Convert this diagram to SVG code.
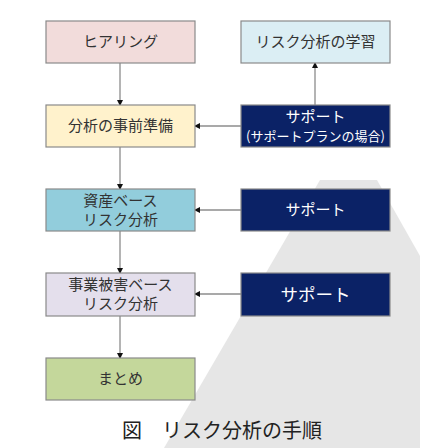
<svg xmlns="http://www.w3.org/2000/svg" width="448" height="448" viewBox="0 0 448 448">
<defs>
<style>
.box{stroke:#8a8a8a;stroke-width:1.2}
.t{font-family:"Noto Sans CJK JP","Noto Sans CJK SC",sans-serif;font-size:15px;fill:#333;text-anchor:middle}
.w{font-family:"Noto Sans CJK JP","Noto Sans CJK SC",sans-serif;fill:#fff;text-anchor:middle}
.c{stroke:#8c8c8c;stroke-width:1.3;fill:none}
</style>
<marker id="ah" markerWidth="6" markerHeight="6" refX="5" refY="3" orient="auto" markerUnits="userSpaceOnUse">
<path d="M0,0 L6,3 L0,6 z" fill="#111"/>
</marker>
</defs>
<rect width="448" height="448" fill="#fff"/>
<polygon points="320,180 377,180 420,256 420,448 164,448" fill="#e6e6e6"/>
<g id="connectors">
<line class="c" x1="120" y1="63" x2="120" y2="105" marker-end="url(#ah)"/>
<line class="c" x1="120" y1="147" x2="120" y2="189" marker-end="url(#ah)"/>
<line class="c" x1="120" y1="231" x2="120" y2="273" marker-end="url(#ah)"/>
<line class="c" x1="120" y1="316" x2="120" y2="358" marker-end="url(#ah)"/>
<line class="c" x1="241" y1="126" x2="195" y2="126" marker-end="url(#ah)"/>
<line class="c" x1="241" y1="210" x2="195" y2="210" marker-end="url(#ah)"/>
<line class="c" x1="241" y1="294" x2="195" y2="294" marker-end="url(#ah)"/>
<line class="c" x1="315" y1="105" x2="315" y2="63" marker-end="url(#ah)"/>
</g>
<g id="hearing"><rect class="box" x="46" y="21" width="149" height="42" fill="#f2dcdb"/><text class="t" x="120.5" y="47">ヒアリング</text></g>
<g id="learning"><rect class="box" x="241" y="21" width="149" height="42" fill="#dbeef4"/><text class="t" x="315.5" y="47">リスク分析の学習</text></g>
<g id="prep"><rect class="box" x="46" y="105" width="149" height="42" fill="#fff2cc"/><text class="t" x="120.5" y="131">分析の事前準備</text></g>
<g id="support1"><rect class="box" x="241" y="105" width="149" height="42" fill="#0b2266"/><text class="w" x="315.5" y="122" font-size="15">サポート</text><text class="w" x="315.5" y="141" font-size="13">(サポートプランの場合)</text></g>
<g id="asset"><rect class="box" x="46" y="189" width="149" height="42" fill="#92cddc"/><text class="t" x="120.5" y="206">資産ベース</text><text class="t" x="120.5" y="225">リスク分析</text></g>
<g id="support2"><rect class="box" x="241" y="189" width="149" height="42" fill="#0b2266"/><text class="w" x="315.5" y="215" font-size="15">サポート</text></g>
<g id="business"><rect class="box" x="46" y="273" width="149" height="43" fill="#e4dfec"/><text class="t" x="120.5" y="290">事業被害ベース</text><text class="t" x="120.5" y="309">リスク分析</text></g>
<g id="support3"><rect class="box" x="241" y="273" width="149" height="43" fill="#0b2266"/><text class="w" x="315.5" y="301" font-size="17.5">サポート</text></g>
<g id="summary"><rect class="box" x="46" y="358" width="149" height="42" fill="#c4d79b"/><text class="t" x="120.5" y="384">まとめ</text></g>
<text x="222" y="438" font-family="'Noto Sans CJK JP','Noto Sans CJK SC',sans-serif" font-size="20" fill="#222" text-anchor="middle">図　リスク分析の手順</text>
</svg>
